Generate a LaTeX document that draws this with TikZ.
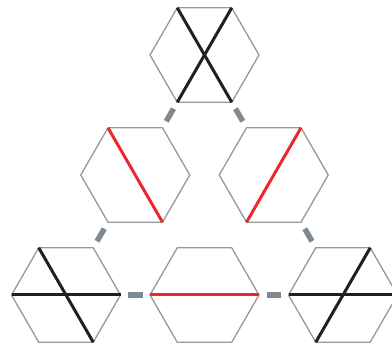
\documentclass[tikz,border=0pt]{standalone}
\definecolor{hexgray}{RGB}{150,153,156}
\definecolor{conngray}{RGB}{128,137,143}
\definecolor{inkred}{RGB}{236,40,44}
\definecolor{inkblack}{RGB}{35,31,32}
\newcommand\hexa[3]{%
  \coordinate (#1) at (#2,#3);
  \path (#1) +(-54.5,0) coordinate (#1-L) +(-27.25,-47.2) coordinate (#1-TL)
    +(27.25,-47.2) coordinate (#1-TR) +(54.5,0) coordinate (#1-R)
    +(27.25,47.2) coordinate (#1-BR) +(-27.25,47.2) coordinate (#1-BL);
  \draw[hexline] (#1-L) -- (#1-TL) -- (#1-TR) -- (#1-R) -- (#1-BR) -- (#1-BL) -- cycle;
}
\begin{document}
\begin{tikzpicture}[x=1pt,y=-1pt,
  hexline/.style={draw=hexgray,line width=1.3pt,line join=miter},
  blk/.style={draw=inkblack,line width=3pt},
  redl/.style={draw=inkred,line width=3pt},
  conn/.style={draw=conngray,line width=5.5pt,shorten <=62pt,shorten >=62pt}]
\clip (0,0) rectangle (392,347);
\useasboundingbox (0,0) rectangle (392,347);
\hexa{top}{204.5}{55}
\hexa{ml}{135.25}{175}
\hexa{mr}{273.75}{175}
\hexa{bl}{66}{295}
\hexa{bm}{204.5}{295}
\hexa{br}{343}{295}
% connectors
\draw[conn] (top) -- (ml);
\draw[conn] (top) -- (mr);
\draw[conn] (ml) -- (bl);
\draw[conn] (mr) -- (br);
\draw[conn] (bl) -- (bm);
\draw[conn] (bm) -- (br);
% inner lines
\draw[blk] (top-TL) -- (top-BR);
\draw[blk] (top-TR) -- (top-BL);
\draw[redl] (ml-TL) -- (ml-BR);
\draw[redl] (mr-TR) -- (mr-BL);
\draw[blk] (bl-L) -- (bl-R);
\draw[blk] (bl-TL) -- (bl-BR);
\draw[redl] (bm-L) -- (bm-R);
\draw[blk] (br-L) -- (br-R);
\draw[blk] (br-TR) -- (br-BL);
\end{tikzpicture}
\end{document}
